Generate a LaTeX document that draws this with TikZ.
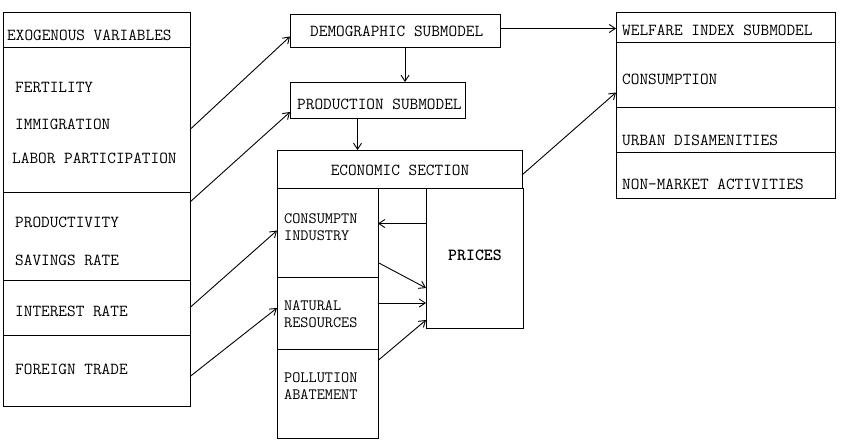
\documentclass[tikz,border=0pt]{standalone}
\usetikzlibrary{arrows.meta,calc}
\begin{document}
\begin{tikzpicture}[x=1pt,y=-1pt,
  box/.style={draw,line width=0.8pt,anchor=north west,inner sep=0pt,outer sep=0pt},
  lbl/.style={anchor=west,inner sep=0pt,font=\fontsize{16.8}{18}\selectfont\ttfamily},
  slbl/.style={anchor=north west,inner sep=0pt,font=\fontsize{15.8}{17.5}\selectfont\ttfamily,align=left},
  arr/.style={line width=0.9pt,-{Straight Barb[length=6pt,width=8pt]}}]
\useasboundingbox (0,0) rectangle (843,442);
% exogenous block
\node[box,minimum width=187pt,minimum height=35pt] (exoH) at (3,12) {};
\node[box,minimum width=187pt,minimum height=145pt] (exoA) at (3,47) {};
\node[box,minimum width=187pt,minimum height=88pt] (exoB) at (3,192) {};
\node[box,minimum width=187pt,minimum height=55pt] (exoC) at (3,280) {};
\node[box,minimum width=187pt,minimum height=71pt] (exoD) at (3,335) {};
\node[lbl] (t1) at (7,35) {EXOGENOUS VARIABLES};
\node[lbl] (t2) at (15,87) {FERTILITY};
\node[lbl] (t3) at (15,124) {IMMIGRATION};
\node[lbl] (t4) at (12,158) {LABOR PARTICIPATION};
\node[lbl] (t5) at (15,222) {PRODUCTIVITY};
\node[lbl] (t6) at (15,260) {SAVINGS RATE};
\node[lbl] (t7) at (15,311) {INTEREST RATE};
\node[lbl] (t8) at (15,369) {FOREIGN TRADE};
% submodels
\node[box,minimum width=210pt,minimum height=33pt] (demo) at (290,14) {};
\node[lbl] (t9) at (310,31) {DEMOGRAPHIC SUBMODEL};
\node[box,minimum width=175pt,minimum height=36pt] (prod) at (290,82) {};
\node[lbl] (t10) at (297,104) {PRODUCTION SUBMODEL};
% economic section
\node[box,minimum width=245pt,minimum height=38pt] (econ) at (277,150) {};
\node[lbl,anchor=center] (t11) at (400,170) {ECONOMIC SECTION};
\node[box,minimum width=101pt,minimum height=89pt] (cons) at (277,188) {};
\node[box,minimum width=101pt,minimum height=72pt] (nat) at (277,277) {};
\node[box,minimum width=101pt,minimum height=89pt] (poll) at (277,349) {};
\node[box,minimum width=97pt,minimum height=140pt] (prices) at (426,188) {};
\node[slbl] (t12) at (284,213) {CONSUMPTN\\INDUSTRY};
\node[slbl] (t13) at (284,300) {NATURAL\\RESOURCES};
\node[slbl] (t14) at (284,372) {POLLUTION\\ABATEMENT};
\node[lbl,anchor=center,font=\fontsize{17}{18}\selectfont\ttfamily\bfseries] (t15) at (475,255) {PRICES};
% welfare
\node[box,minimum width=219pt,minimum height=30pt] (welH) at (616,12) {};
\node[box,minimum width=219pt,minimum height=65pt] (welC) at (616,42) {};
\node[box,minimum width=219pt,minimum height=45pt] (welU) at (616,107) {};
\node[box,minimum width=219pt,minimum height=46pt] (welN) at (616,152) {};
\node[lbl] (t16) at (622,30) {WELFARE INDEX SUBMODEL};
\node[lbl] (t17) at (622,79) {CONSUMPTION};
\node[lbl] (t18) at (622,140) {URBAN DISAMENITIES};
\node[lbl] (t19) at (622,184) {NON-MARKET ACTIVITIES};
% connectors
\draw[arr] ([yshift=-10pt]exoA.east) -- ([yshift=-6pt]demo.west);
\draw[arr] ([yshift=-10pt]exoB.north east) -- ([yshift=6pt]prod.south west);
\draw[arr] (exoC.east) -- ([yshift=2pt]cons.west);
\draw[arr] ([yshift=-6pt]exoD.east) -- ([yshift=5pt]nat.west);
\draw[arr] ([xshift=10pt]demo.south) -- ([xshift=10pt]demo.south |- prod.north);
\draw[arr] ([xshift=-20pt]prod.south) -- ([xshift=-20pt]prod.south |- econ.north);
\coordinate (dw) at ([yshift=2pt]demo.east);
\draw[arr] (dw) -- (welH.west |- dw);
\draw[arr] ([yshift=-6pt]econ.east) -- ([yshift=-18pt]welC.west);
\coordinate (pc) at ([yshift=9pt]cons.east);
\draw[arr] (prices.west |- pc) -- (pc);
\draw[arr] ([yshift=-30pt]cons.east) -- ([yshift=-30pt]prices.west);
\coordinate (pn) at ([yshift=10pt]nat.east);
\draw[arr] (pn) -- (prices.west |- pn);
\draw[arr] ([yshift=33pt]poll.east) -- ([yshift=8pt]prices.south west);
\end{tikzpicture}
\end{document}
